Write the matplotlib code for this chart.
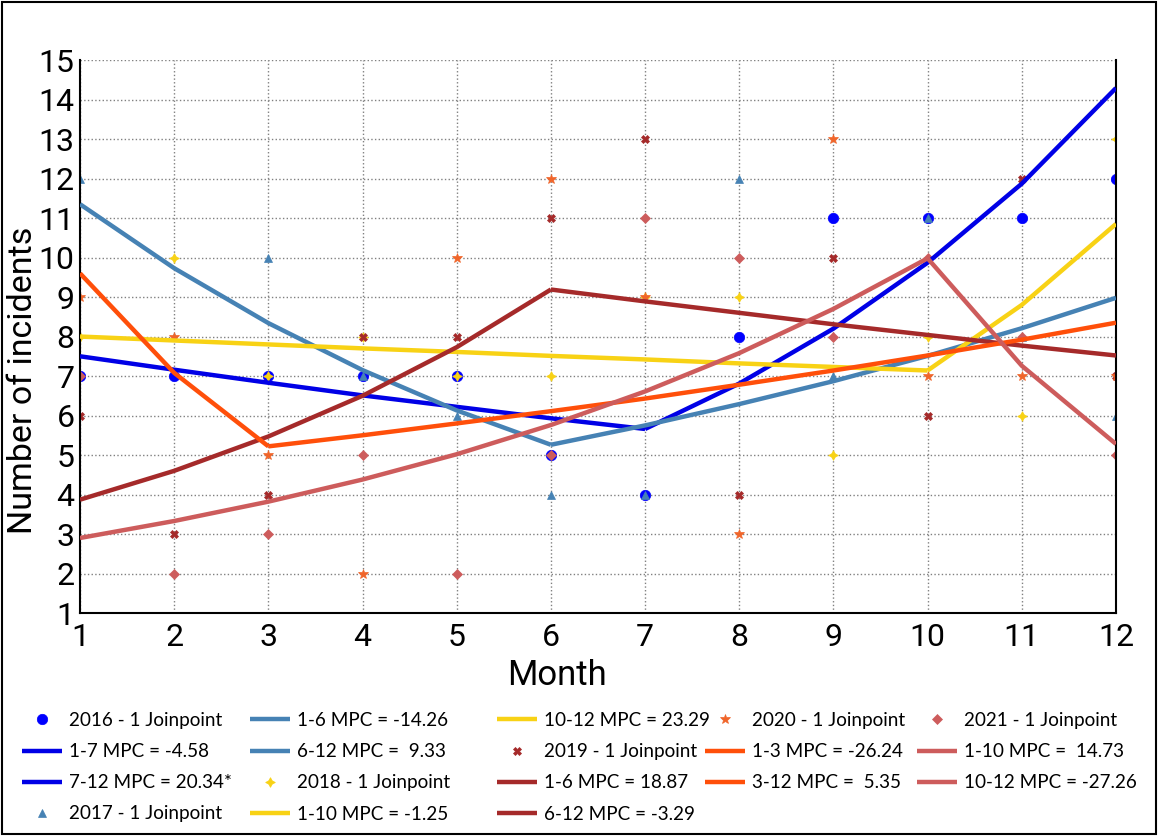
import matplotlib
matplotlib.use("Agg")
import matplotlib.pyplot as plt
from matplotlib.patches import Rectangle

# Monthly incident counts per year
months = [1, 2, 3, 4, 5, 6, 7, 8, 9, 10, 11, 12]
counts_2016 = [7, 7, 7, 7, 7, 5, 4, 8, 11, 11, 11, 12]
counts_2017 = [12, 8, 10, 7, 6, 4, 4, 12, 7, 11, 8, 6]
counts_2018 = [8, 10, 7, 8, 7, 7, 9, 9, 5, 8, 6, 13]
counts_2019 = [6, 3, 4, 8, 8, 11, 13, 4, 10, 6, 12, 7]
counts_2020 = [9, 8, 5, 2, 10, 12, 9, 3, 13, 7, 7, 7]
counts_2021 = [7, 2, 3, 5, 2, 5, 11, 10, 8, 10, 8, 5]

# Joinpoint model fitted values (one value per month)
fit_2016 = [7.50, 7.16, 6.83, 6.51, 6.22, 5.93, 5.66, 6.81, 8.20, 9.87, 11.87, 14.29]
fit_2017 = [11.35, 9.73, 8.34, 7.15, 6.13, 5.26, 5.75, 6.29, 6.87, 7.51, 8.21, 8.98]
fit_2018 = [8.00, 7.90, 7.80, 7.70, 7.61, 7.51, 7.42, 7.32, 7.23, 7.14, 8.80, 10.85]
fit_2019 = [3.87, 4.60, 5.47, 6.50, 7.73, 9.19, 8.89, 8.60, 8.31, 8.04, 7.77, 7.52]
fit_2020 = [9.60, 7.08, 5.22, 5.50, 5.80, 6.11, 6.43, 6.78, 7.14, 7.52, 7.92, 8.35]
fit_2021 = [2.90, 3.33, 3.82, 4.38, 5.02, 5.76, 6.61, 7.58, 8.70, 9.98, 7.26, 5.28]

# Joinpoint month for each year and segment labels
joinpoints = {"2016": 7, "2017": 6, "2018": 10, "2019": 6, "2020": 3, "2021": 10}
segment_labels = {
    "2016": ["1-7 MPC = -4.58", "7-12 MPC = 20.34*"],
    "2017": ["1-6 MPC = -14.26", "6-12 MPC =  9.33"],
    "2018": ["1-10 MPC = -1.25", "10-12 MPC = 23.29"],
    "2019": ["1-6 MPC = 18.87", "6-12 MPC = -3.29"],
    "2020": ["1-3 MPC = -26.24", "3-12 MPC =  5.35"],
    "2021": ["1-10 MPC =  14.73", "10-12 MPC = -27.26"],
}

years = ["2016", "2017", "2018", "2019", "2020", "2021"]
observed = [counts_2016, counts_2017, counts_2018, counts_2019, counts_2020, counts_2021]
fitted = [fit_2016, fit_2017, fit_2018, fit_2019, fit_2020, fit_2021]

line_colors = ["#0000E6", "#4682B4", "#F8D215", "#A52A2A", "#FF4F0A", "#CD5C5C"]
point_colors = ["#0000FF", "#4682B4", "#F8D215", "#A52A2A", "#F0652A", "#CD5C5C"]
point_markers = ["o", "^", (4, 1, 0), "X", "*", "D"]
point_sizes = [7.5, 6, 7, 6, 7, 5]

plt.rcParams["font.family"] = ["Roboto", "DejaVu Sans"]

fig = plt.figure(figsize=(11.58, 8.36), dpi=100)
ax = fig.add_axes([0.0691, 0.2667, 0.8946, 0.6615])

for yr, obs, fit, lc, pc, mk, ms in zip(years, observed, fitted, line_colors,
                                        point_colors, point_markers, point_sizes):
    ax.plot(months, obs, linestyle="none", marker=mk, markersize=ms, color=pc,
            markeredgewidth=0.5, label=f"{yr} - 1 Joinpoint", zorder=2)
    jp = joinpoints[yr]
    i = months.index(jp)
    lab1, lab2 = segment_labels[yr]
    ax.plot(months[: i + 1], fit[: i + 1], color=lc, lw=3.2,
            solid_capstyle="butt", label=lab1, zorder=3)
    ax.plot(months[i:], fit[i:], color=lc, lw=3.2,
            solid_capstyle="butt", label=lab2, zorder=3)

ax.set_xlim(1, 12)
ax.set_ylim(1, 15)
ax.set_xticks(months)
ax.set_yticks(range(1, 16))
ax.tick_params(axis="both", length=0, labelsize=23, pad=4)
ax.tick_params(axis="x", pad=7)
ax.grid(True, linestyle=":", color="#808080", linewidth=1.0)
ax.set_axisbelow(True)
for side in ["left", "bottom", "right"]:
    ax.spines[side].set_linewidth(1.5)
    ax.spines[side].set_color("black")
ax.spines["top"].set_visible(False)

ax.set_xlabel("Month", fontsize=25)
ax.set_ylabel("Number of incidents", fontsize=24.5)
ax.xaxis.set_label_coords(0.46, -0.083)
ax.yaxis.set_label_coords(-0.0395, 0.42)

# Legend: five columns placed side by side below the axes
handles, labels = ax.get_legend_handles_labels()
col_slices = [(0, 4), (4, 8), (8, 12), (12, 15), (15, 18)]
col_x = [22, 250, 497, 705, 917]
for (a, b), xpx in zip(col_slices, col_x):
    leg = fig.legend(handles[a:b], labels[a:b], loc="upper left",
                     bbox_to_anchor=(xpx / 1158, 1 - 712 / 836),
                     frameon=False, prop={"family": "Lato", "size": 13.6},
                     handlelength=2.1, handletextpad=0.4, labelspacing=0.75,
                     borderpad=0, borderaxespad=0)

# Thin frame around the whole figure
fig.patches.append(Rectangle((0.002, 0.002), 0.996, 0.996, transform=fig.transFigure,
                             fill=False, edgecolor="black", linewidth=1.5))

fig.savefig("out.png", dpi=100, facecolor="white")
